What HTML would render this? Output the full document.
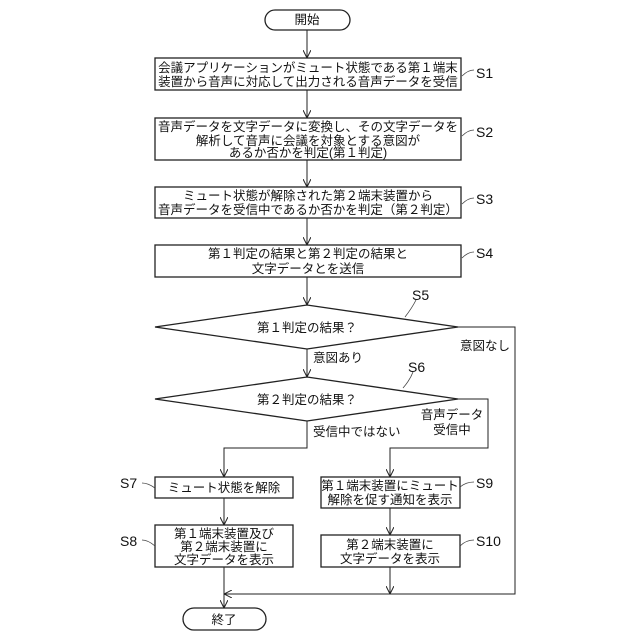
<!DOCTYPE html>
<html><head><meta charset="utf-8"><style>
html,body{margin:0;padding:0;background:#fff;}
svg{display:block;}
text{font-family:"Liberation Sans","Noto Sans CJK JP",sans-serif;font-size:12.5px;fill:#111;}
.s{font-family:"Liberation Sans",sans-serif;font-size:14px;}
</style></head><body>
<svg width="640" height="640" viewBox="0 0 640 640" xmlns="http://www.w3.org/2000/svg">
<defs><marker id="a" markerWidth="8" markerHeight="8" refX="7" refY="4" orient="auto" markerUnits="userSpaceOnUse"><path d="M0,0 L8,4 L0,8" fill="none" stroke="#222" stroke-width="1"/></marker></defs>
<g fill="none" stroke="#222" stroke-width="1.3">
<rect x="265" y="10" width="85" height="20" rx="10"/>
<rect x="155" y="58" width="306" height="32"/>
<rect x="155" y="118" width="306" height="42"/>
<rect x="155" y="187" width="306" height="31"/>
<rect x="155" y="245" width="306" height="32"/>
<polygon points="155,327 307,305 458,327 307,349"/>
<polygon points="155,399 307,377 458,399 307,421"/>
<rect x="155" y="477" width="138" height="21"/>
<rect x="321" y="477" width="139" height="31"/>
<rect x="155" y="525" width="138" height="42"/>
<rect x="321" y="535" width="139" height="32"/>
<rect x="183" y="608" width="83" height="22" rx="11"/>
</g>
<g fill="none" stroke="#222" stroke-width="1" marker-end="url(#a)">
<line x1="307" y1="30" x2="307" y2="57"/>
<line x1="307" y1="90" x2="307" y2="117"/>
<line x1="307" y1="160" x2="307" y2="186"/>
<line x1="307" y1="218" x2="307" y2="244"/>
<line x1="307" y1="277" x2="307" y2="304"/>
<line x1="307" y1="349" x2="307" y2="376"/>
<polyline points="307,421 307,448 224,448 224,476"/>
<polyline points="458,399 488,399 488,448 390,448 390,476"/>
<line x1="224" y1="498" x2="224" y2="524"/>
<line x1="390" y1="508" x2="390" y2="534"/>
<line x1="390" y1="567" x2="390" y2="593"/>
<polyline points="458,327 515,327 515,594 225,594"/>
<line x1="224" y1="567" x2="224" y2="607"/>
</g>
<g fill="none" stroke="#444" stroke-width="0.8">
<path d="M462,76 Q468,70 474,70"/>
<path d="M462,136 Q468,130 474,130"/>
<path d="M462,204 Q468,198 474,198"/>
<path d="M462,258 Q468,252 474,252"/>
<path d="M405,317 Q412,308 416,300"/>
<path d="M403,388 Q410,380 413,372"/>
<path d="M155,488 Q148,483 142,483"/>
<path d="M155,546 Q148,540 142,540"/>
<path d="M460,487 Q466,482 474,482"/>
<path d="M460,546 Q466,540 474,540"/>
</g>
<g text-anchor="middle">
<text x="307" y="24">開始</text>
<text x="308" y="72">会議アプリケーションがミュート状態である第１端末</text>
<text x="308" y="86">装置から音声に対応して出力される音声データを受信</text>
<text x="308" y="131">音声データを文字データに変換し、その文字データを</text>
<text x="308" y="145">解析して音声に会議を対象とする意図が</text>
<text x="308" y="157">あるか否かを判定(第１判定)</text>
<text x="308" y="200">ミュート状態が解除された第２端末装置から</text>
<text x="308" y="214">音声データを受信中であるか否かを判定（第２判定）</text>
<text x="308" y="258">第１判定の結果と第２判定の結果と</text>
<text x="308" y="273">文字データとを送信</text>
<text x="307" y="332">第１判定の結果？</text>
<text x="307" y="404">第２判定の結果？</text>
<text x="224" y="492">ミュート状態を解除</text>
<text x="390" y="490">第１端末装置にミュート</text>
<text x="390" y="504">解除を促す通知を表示</text>
<text x="224" y="538">第１端末装置及び</text>
<text x="224" y="551">第２端末装置に</text>
<text x="224" y="564">文字データを表示</text>
<text x="390" y="549">第２端末装置に</text>
<text x="390" y="563">文字データを表示</text>
<text x="224" y="624">終了</text>
<text x="452" y="419">音声データ</text>
<text x="452" y="434">受信中</text>
</g>
<text x="313" y="362">意図あり</text>
<text x="460" y="350">意図なし</text>
<text x="313" y="436">受信中ではない</text>
<g class="s">
<text class="s" x="476" y="78">S1</text>
<text class="s" x="476" y="137">S2</text>
<text class="s" x="476" y="204">S3</text>
<text class="s" x="476" y="258">S4</text>
<text class="s" x="412" y="300">S5</text>
<text class="s" x="408" y="372">S6</text>
<text class="s" x="120" y="488">S7</text>
<text class="s" x="120" y="546">S8</text>
<text class="s" x="476" y="488">S9</text>
<text class="s" x="476" y="546">S10</text>
</g>
</svg>
</body></html>
